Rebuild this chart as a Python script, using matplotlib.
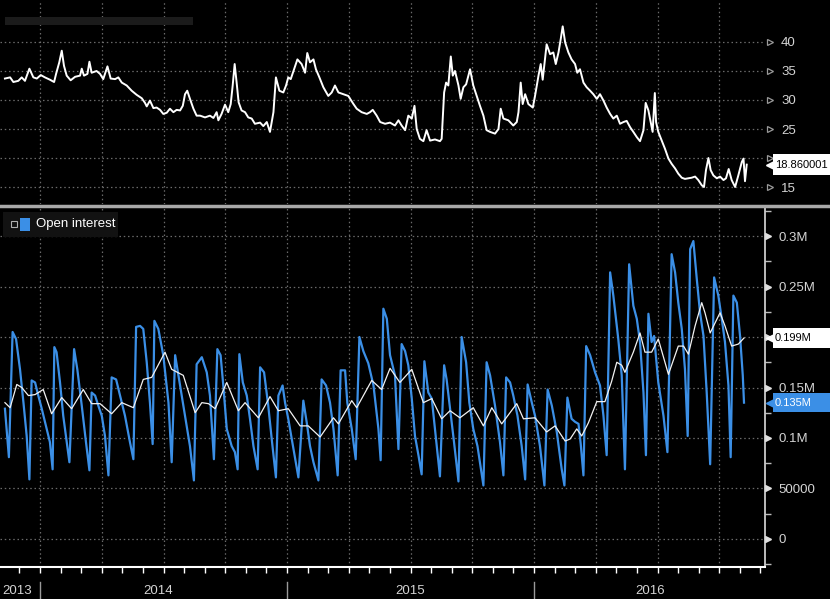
import matplotlib
matplotlib.use('Agg')
import matplotlib.pyplot as plt
import matplotlib.transforms as mtransforms
from matplotlib.lines import Line2D
from matplotlib.patches import Rectangle
import numpy as np

plt.rcParams['font.family'] = ['Liberation Sans', 'DejaVu Sans']

# top panel: price (decimal years, value)
price_t = [2013.858, 2013.879, 2013.892, 2013.912, 2013.926, 2013.939, 2013.957, 2013.973, 2013.987,
           2014.003, 2014.020, 2014.040, 2014.057, 2014.065, 2014.078, 2014.088, 2014.097, 2014.108,
           2014.124, 2014.142, 2014.162, 2014.169, 2014.178, 2014.192, 2014.200, 2014.209, 2014.229,
           2014.243, 2014.256, 2014.273, 2014.286, 2014.304, 2014.317, 2014.331, 2014.351, 2014.371,
           2014.391, 2014.412, 2014.425, 2014.432, 2014.445, 2014.459, 2014.472, 2014.486, 2014.499,
           2014.513, 2014.526, 2014.540, 2014.553, 2014.567, 2014.578, 2014.587, 2014.596, 2014.607,
           2014.621, 2014.634, 2014.648, 2014.668, 2014.688, 2014.702, 2014.715, 2014.722, 2014.735,
           2014.749, 2014.762, 2014.772, 2014.780, 2014.788, 2014.796, 2014.804, 2014.816, 2014.830,
           2014.843, 2014.857, 2014.870, 2014.891, 2014.904, 2014.918, 2014.931, 2014.945, 2014.955,
           2014.969, 2014.985, 2014.996, 2015.005, 2015.015, 2015.026, 2015.042, 2015.059, 2015.073,
           2015.082, 2015.093, 2015.107, 2015.117, 2015.131, 2015.147, 2015.167, 2015.181, 2015.194,
           2015.208, 2015.228, 2015.248, 2015.269, 2015.282, 2015.302, 2015.323, 2015.336, 2015.347,
           2015.363, 2015.377, 2015.397, 2015.417, 2015.437, 2015.451, 2015.464, 2015.478, 2015.491,
           2015.505, 2015.516, 2015.525, 2015.538, 2015.552, 2015.565, 2015.579, 2015.599, 2015.619,
           2015.626, 2015.636, 2015.644, 2015.653, 2015.663, 2015.671, 2015.680, 2015.694, 2015.703,
           2015.714, 2015.725, 2015.741, 2015.754, 2015.768, 2015.781, 2015.795, 2015.808, 2015.822,
           2015.842, 2015.856, 2015.865, 2015.876, 2015.896, 2015.916, 2015.930, 2015.937, 2015.946,
           2015.954, 2015.964, 2015.977, 2015.995, 2016.004, 2016.018, 2016.027, 2016.035, 2016.045,
           2016.051, 2016.065, 2016.078, 2016.088, 2016.099, 2016.108, 2016.116, 2016.126, 2016.139,
           2016.152, 2016.166, 2016.175, 2016.186, 2016.200, 2016.213, 2016.227, 2016.240, 2016.254,
           2016.267, 2016.281, 2016.294, 2016.308, 2016.321, 2016.335, 2016.348, 2016.362, 2016.375,
           2016.389, 2016.402, 2016.416, 2016.429, 2016.443, 2016.452, 2016.463, 2016.472, 2016.480,
           2016.489, 2016.494, 2016.503, 2016.517, 2016.530, 2016.544, 2016.557, 2016.571, 2016.584,
           2016.598, 2016.611, 2016.625, 2016.638, 2016.652, 2016.665, 2016.679, 2016.688, 2016.696,
           2016.706, 2016.715, 2016.726, 2016.740, 2016.753, 2016.767, 2016.777, 2016.788, 2016.800,
           2016.814, 2016.827, 2016.841, 2016.848, 2016.854, 2016.861]
price = [33.7, 33.9, 33.1, 33.3, 33.9, 33.3, 35.4, 33.9, 33.7,
         34.3, 33.9, 33.5, 33.1, 34.5, 36.5, 38.5, 35.9, 34.2,
         33.4, 34.0, 34.2, 35.4, 34.2, 34.5, 36.6, 34.7, 35.0,
         34.5, 33.6, 35.8, 33.7, 33.6, 33.9, 33.0, 32.5, 31.6,
         30.9, 30.3, 29.5, 28.9, 29.9, 28.6, 28.7, 28.3, 27.6,
         27.8, 28.5, 27.9, 28.3, 28.2, 29.0, 31.0, 31.6, 30.2,
         28.5, 27.3, 27.3, 27.0, 27.3, 26.9, 27.9, 26.5, 27.6,
         29.2, 27.9, 29.3, 32.5, 36.2, 33.0, 29.6, 28.2, 27.9,
         27.0, 26.8, 25.9, 26.1, 25.5, 26.2, 24.5, 27.9, 33.9,
         31.6, 31.3, 32.5, 33.9, 33.6, 35.0, 37.0, 36.2, 34.7,
         38.1, 36.5, 37.0, 35.3, 33.9, 32.2, 30.7, 31.3, 32.5,
         31.3, 31.0, 30.7, 29.3, 28.5, 27.9, 27.6, 27.9, 28.3,
         27.3, 26.2, 25.9, 26.1, 25.6, 26.5, 25.6, 24.8, 27.3,
         26.8, 29.0, 25.0, 23.3, 22.9, 24.8, 23.0, 23.2, 22.9,
         23.3, 31.3, 33.0, 32.5, 37.5, 34.2, 35.0, 32.5, 30.2,
         32.2, 32.7, 35.3, 32.5, 30.7, 29.0, 27.3, 24.8, 24.5,
         24.2, 25.0, 28.5, 26.8, 26.5, 25.6, 26.2, 27.9, 33.0,
         29.3, 31.0, 29.3, 28.7, 30.7, 34.2, 36.2, 33.5, 37.3,
         39.6, 37.9, 38.2, 36.2, 38.2, 40.5, 42.7, 39.9, 38.2,
         37.0, 36.2, 34.7, 35.3, 33.0, 32.2, 31.6, 31.0, 30.2,
         31.0, 29.9, 28.7, 27.6, 26.8, 27.3, 25.9, 26.2, 26.4,
         25.3, 24.5, 23.6, 22.9, 24.8, 29.5, 28.2, 26.2, 24.5,
         31.2, 26.2, 24.5, 23.0, 21.6, 19.9, 19.0, 18.2, 17.3,
         16.6, 16.4, 16.5, 16.6, 16.8, 16.2, 15.3, 15.0, 17.9,
         20.0, 17.9, 17.0, 16.5, 16.8, 16.2, 16.5, 18.1, 16.2,
         15.0, 17.0, 19.3, 19.9, 16.0, 18.860001]

# bottom panel: open interest, thousands of contracts
oi_t = [2013.858, 2013.874, 2013.889, 2013.903, 2013.919, 2013.933, 2013.946, 2013.957, 2013.966,
        2013.980, 2013.993, 2014.007, 2014.027, 2014.040, 2014.051, 2014.058, 2014.067, 2014.081,
        2014.094, 2014.108, 2014.119, 2014.138, 2014.151, 2014.169, 2014.186, 2014.200, 2014.209,
        2014.223, 2014.236, 2014.250, 2014.263, 2014.277, 2014.290, 2014.308, 2014.324, 2014.344,
        2014.364, 2014.378, 2014.389, 2014.405, 2014.418, 2014.432, 2014.445, 2014.456, 2014.463,
        2014.479, 2014.499, 2014.520, 2014.533, 2014.547, 2014.567, 2014.587, 2014.607, 2014.623,
        2014.634, 2014.655, 2014.675, 2014.688, 2014.704, 2014.718, 2014.731, 2014.742, 2014.756,
        2014.776, 2014.789, 2014.800, 2014.807, 2014.821, 2014.837, 2014.850, 2014.864, 2014.881,
        2014.891, 2014.907, 2014.924, 2014.938, 2014.955, 2014.965, 2014.982, 2014.992, 2015.005,
        2015.026, 2015.046, 2015.066, 2015.080, 2015.093, 2015.107, 2015.127, 2015.140, 2015.158,
        2015.174, 2015.188, 2015.205, 2015.217, 2015.235, 2015.244, 2015.262, 2015.278, 2015.293,
        2015.309, 2015.329, 2015.350, 2015.370, 2015.379, 2015.390, 2015.404, 2015.417, 2015.437,
        2015.451, 2015.464, 2015.478, 2015.491, 2015.505, 2015.518, 2015.532, 2015.545, 2015.556,
        2015.572, 2015.586, 2015.599, 2015.619, 2015.636, 2015.646, 2015.660, 2015.676, 2015.694,
        2015.707, 2015.725, 2015.738, 2015.754, 2015.771, 2015.795, 2015.808, 2015.822, 2015.842,
        2015.862, 2015.876, 2015.887, 2015.903, 2015.916, 2015.933, 2015.950, 2015.964, 2015.974,
        2015.991, 2016.004, 2016.024, 2016.042, 2016.055, 2016.072, 2016.092, 2016.112, 2016.123,
        2016.135, 2016.152, 2016.166, 2016.180, 2016.189, 2016.200, 2016.211, 2016.227, 2016.247,
        2016.267, 2016.281, 2016.294, 2016.308, 2016.321, 2016.341, 2016.355, 2016.368, 2016.385,
        2016.402, 2016.416, 2016.429, 2016.443, 2016.453, 2016.463, 2016.476, 2016.486, 2016.503,
        2016.524, 2016.540, 2016.557, 2016.571, 2016.584, 2016.598, 2016.611, 2016.622, 2016.632,
        2016.645, 2016.659, 2016.672, 2016.686, 2016.699, 2016.713, 2016.729, 2016.746, 2016.760,
        2016.773, 2016.787, 2016.796, 2016.807, 2016.821, 2016.834, 2016.845, 2016.850]
oi_k = [129, 81, 205, 198, 168, 135, 102, 59, 157,
        155, 142, 129, 109, 96, 69, 190, 185, 155,
        122, 96, 76, 188, 168, 132, 96, 68, 145,
        142, 132, 122, 102, 63, 160, 158, 142, 122,
        96, 79, 210, 211, 208, 175, 135, 94, 216,
        208, 182, 135, 76, 182, 152, 122, 92, 58,
        173, 180, 165, 142, 79, 188, 182, 152, 109,
        92, 86, 69, 183, 155, 142, 119, 92, 69,
        170, 165, 132, 99, 61, 142, 152, 135, 119,
        89, 61, 137, 115, 92, 76, 58, 158, 152,
        135, 109, 63, 167, 167, 135, 109, 79, 200,
        186, 174, 152, 109, 78, 228, 218, 182, 162,
        89, 193, 186, 172, 139, 102, 83, 64, 176,
        145, 139, 109, 62, 172, 158, 129, 96, 57,
        200, 175, 135, 109, 92, 53, 175, 162, 132,
        96, 63, 160, 155, 142, 122, 92, 59, 153,
        135, 122, 92, 53, 148, 132, 106, 69, 53,
        140, 119, 116, 114, 94, 63, 191, 182, 165,
        152, 122, 83, 264, 241, 198, 162, 69, 272,
        231, 218, 195, 145, 83, 223, 195, 201, 155,
        122, 86, 282, 264, 234, 208, 168, 102, 287,
        295, 257, 224, 201, 145, 74, 259, 241, 218,
        195, 152, 81, 241, 234, 201, 162, 135]

# bottom panel: moving average of open interest, thousands
avg_t = [2013.858, 2013.879, 2013.906, 2013.926, 2013.953, 2013.980, 2014.013, 2014.047, 2014.088,
         2014.128, 2014.175, 2014.209, 2014.243, 2014.290, 2014.331, 2014.378, 2014.418, 2014.452,
         2014.506, 2014.533, 2014.580, 2014.628, 2014.655, 2014.682, 2014.709, 2014.756, 2014.803,
         2014.830, 2014.884, 2014.931, 2014.965, 2015.005, 2015.053, 2015.086, 2015.134, 2015.188,
         2015.208, 2015.262, 2015.282, 2015.343, 2015.383, 2015.417, 2015.457, 2015.505, 2015.552,
         2015.586, 2015.626, 2015.660, 2015.700, 2015.754, 2015.795, 2015.829, 2015.869, 2015.930,
         2015.957, 2016.004, 2016.051, 2016.085, 2016.126, 2016.146, 2016.173, 2016.193, 2016.220,
         2016.254, 2016.287, 2016.314, 2016.335, 2016.355, 2016.368, 2016.402, 2016.429, 2016.449,
         2016.476, 2016.503, 2016.544, 2016.584, 2016.605, 2016.625, 2016.652, 2016.679, 2016.692,
         2016.713, 2016.753, 2016.773, 2016.800, 2016.827, 2016.850]
avg_k = [135, 130, 153, 150, 142, 143, 148, 124, 140,
         129, 148, 134, 134, 124, 135, 130, 158, 160,
         185, 168, 162, 125, 135, 134, 129, 155, 127,
         135, 120, 141, 127, 129, 112, 112, 101, 120,
         114, 137, 130, 157, 148, 169, 155, 168, 135,
         139, 119, 127, 120, 130, 112, 130, 114, 134,
         119, 120, 106, 112, 97, 99, 109, 102, 115,
         136, 136, 156, 175, 172, 165, 185, 204, 185,
         185, 198, 163, 191, 191, 183, 211, 234, 224,
         204, 224, 211, 191, 193, 199]

price_ticks = [15, 20, 25, 30, 35, 40]
oi_ticks = [0, 50000, 100000, 150000, 200000, 250000, 300000]
oi_tick_labels = ['0', '50000', '0.1M', '0.15M', '0.2M', '0.25M', '0.3M']
year_labels = ['2013', '2014', '2015', '2016']
year_label_pos = [2013.907, 2014.48, 2015.50, 2016.47]
year_starts = [2014, 2015, 2016]

W, H = 830, 599
BLUE = '#3b8fe6'
GRID = '#6a6a6a'
LABEL = '#d4d4d4'
FS = 9.5
TAG_FS = 8


def fx(px):
    return px / W


def fy(py):
    return 1 - py / H


fig = plt.figure(figsize=(W / 100, H / 100), dpi=100, facecolor='black')
ax1 = fig.add_axes([0, fy(204), fx(765), fy(0) - fy(204)], facecolor='black')
ax2 = fig.add_axes([0, fy(567), fx(765), fy(208) - fy(567)], facecolor='black')

xlim = (2013.838, 2016.935)
quarters = np.arange(2014.0, 2017.0, 0.25)
months = np.arange(2013 + 11 / 12, 2016.95, 1 / 12)


def value_tag(ax, val, text, fc, tc, half_h):
    # box that runs to the right edge of the figure, with a pointer on its left
    tr = mtransforms.blended_transform_factory(ax.transAxes, ax.transData)
    ax.add_patch(Rectangle((1.010, val - half_h), 0.1, 2 * half_h, transform=tr, fc=fc,
                           ec='none', clip_on=False, zorder=10))
    ax.plot([1.008], [val], marker='<', ms=7, color=fc, transform=tr, clip_on=False, zorder=11)
    ax.text(1.013, val, text, transform=tr, color=tc, fontsize=TAG_FS, va='center',
            ha='left', zorder=12, clip_on=False)


# ---- top panel
ax1.plot(price_t, price, color='white', lw=1.4)
ax1.set_xlim(*xlim)
ax1.set_ylim(12.07, 47.24)
ax1.set_xticks(quarters)
ax1.set_yticks(price_ticks)
ax1.grid(True, color=GRID, linestyle=(0, (1.2, 2.2)), lw=0.9)
ax1.tick_params(axis='x', length=0, labelbottom=False)
ax1.tick_params(axis='y', left=False, right=False, labelleft=False, labelright=True,
                pad=8, colors=LABEL, labelsize=FS)
for s in ax1.spines.values():
    s.set_visible(False)
tr1 = mtransforms.blended_transform_factory(ax1.transAxes, ax1.transData)
ax1.plot([1.006] * len(price_ticks), price_ticks, ls='none', marker='>', ms=4,
         mfc='none', mec='#9a9a9a', mew=0.9, transform=tr1, clip_on=False)
value_tag(ax1, price[-1], '%.6f' % price[-1], 'white', 'black', 1.75)

# ---- bottom panel
ax2.plot(oi_t, np.array(oi_k) * 1000, color=BLUE, lw=1.6)
ax2.plot(avg_t, np.array(avg_k) * 1000, color='#f2f2f2', lw=0.9)
ax2.set_xlim(*xlim)
ax2.set_ylim(-27723, 327723)
ax2.set_xticks(quarters)
ax2.set_xticks(months, minor=True)
ax2.set_yticks(oi_ticks)
ax2.set_yticklabels(oi_tick_labels)
ax2.set_yticks(np.arange(-25000, 330000, 50000), minor=True)
ax2.grid(True, which='major', color=GRID, linestyle=(0, (1.2, 2.2)), lw=0.9)
ax2.tick_params(axis='x', which='both', direction='out', length=4, width=1, colors='white',
                labelbottom=False)
ax2.tick_params(axis='y', which='major', left=False, right=False, labelleft=False,
                labelright=True, pad=6, colors=LABEL, labelsize=FS)
ax2.tick_params(axis='y', which='minor', left=False, right=True, direction='out',
                length=4, width=1, colors='#bdbdbd')
for side in ['top', 'left']:
    ax2.spines[side].set_visible(False)
ax2.spines['bottom'].set_color('white')
ax2.spines['bottom'].set_linewidth(1.5)
ax2.spines['right'].set_color('#dcdcdc')
ax2.spines['right'].set_linewidth(1.2)
tr2 = mtransforms.blended_transform_factory(ax2.transAxes, ax2.transData)
ax2.plot([1.004] * len(oi_ticks), oi_ticks, ls='none', marker='>', ms=4.5, color='#e0e0e0',
         transform=tr2, clip_on=False)

# last-value tags (they cover the tick label underneath, as in the terminal view)
value_tag(ax2, avg_k[-1] * 1000, '%.3fM' % (avg_k[-1] / 1000), 'white', 'black', 9500)
value_tag(ax2, oi_k[-1] * 1000, '%.3fM' % (oi_k[-1] / 1000), BLUE, 'white', 9500)

# year separators and labels
trx = mtransforms.blended_transform_factory(ax2.transData, ax2.transAxes)
for yr in year_starts:
    ax2.plot([yr, yr], [-0.042, -0.095], color='#9a9a9a', lw=1, transform=trx, clip_on=False)
for lab, pos in zip(year_labels, year_label_pos):
    ax2.text(pos, -0.068, lab, transform=trx, color=LABEL, fontsize=FS, ha='center', va='center')

# legend
fig.add_artist(Rectangle((fx(3), fy(237)), fx(115), fy(212) - fy(237), transform=fig.transFigure,
                         fc='#121212', ec='none'))
fig.add_artist(Rectangle((fx(11), fy(227)), fx(6), fy(221) - fy(227), transform=fig.transFigure,
                         fc='none', ec='#b0b0b0', lw=0.8))
fig.add_artist(Rectangle((fx(20), fy(231)), fx(10), fy(218) - fy(231), transform=fig.transFigure,
                         fc=BLUE, ec='none'))
fig.text(fx(36), fy(224), 'Open interest', color='white', fontsize=FS, va='center', ha='left')

# faint header bar and panel separator
fig.add_artist(Rectangle((fx(5), fy(25)), fx(188), fy(17) - fy(25), transform=fig.transFigure,
                         fc='#1b1b1b', ec='none'))
fig.add_artist(Line2D([0, 1], [fy(206), fy(206)], transform=fig.transFigure, color='#a8a8a8',
                      lw=2.5))

fig.savefig('out.png', dpi=100, facecolor='black')
